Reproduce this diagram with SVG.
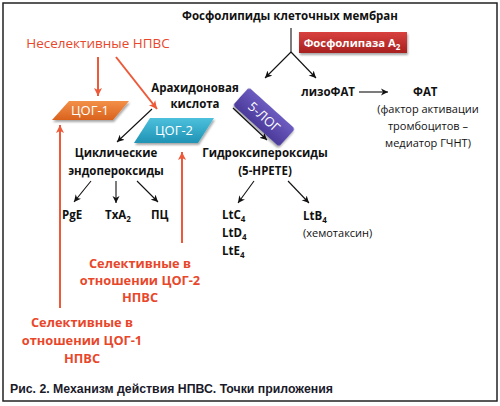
<svg xmlns="http://www.w3.org/2000/svg" width="500" height="406" viewBox="0 0 500 406">
<defs>
<style>
.b{font-family:"Open Sans","Liberation Sans",sans-serif;font-weight:bold;font-size:11.5px;fill:#111}
.n{font-family:"Open Sans","Liberation Sans",sans-serif;font-size:11px;fill:#111}
.r{font-family:"Open Sans","Liberation Sans",sans-serif;font-size:13.5px;fill:#e8472b}
.rb{font-family:"Open Sans","Liberation Sans",sans-serif;font-weight:bold;font-size:12.8px;fill:#e8472b}
.w{font-family:"Open Sans","Liberation Sans",sans-serif;font-size:13px;fill:#fff}
.wb{font-family:"Open Sans","Liberation Sans",sans-serif;font-weight:bold;font-size:11.3px;fill:#fff}
.k{stroke:#111;stroke-width:1.1;fill:none}
.red{stroke:#ec5a3a;stroke-width:2;fill:none}
</style>
<marker id="ak" markerWidth="8" markerHeight="8" refX="7" refY="4" orient="auto" markerUnits="userSpaceOnUse">
<path d="M0,0.5 L7,4 L0,7.5 L2,4 Z" fill="#111"/>
</marker>
<marker id="ar" markerWidth="9" markerHeight="9" refX="8" refY="4.5" orient="auto" markerUnits="userSpaceOnUse">
<path d="M0,0.5 L8,4.5 L0,8.5 L2,4.5 Z" fill="#ec5a3a"/>
</marker>
<filter id="sh" x="-20%" y="-20%" width="140%" height="160%">
<feDropShadow dx="1" dy="2" stdDeviation="1.2" flood-color="#000" flood-opacity="0.35"/>
</filter>
<linearGradient id="gRed" x1="0" y1="0" x2="0" y2="1"><stop offset="0" stop-color="#d8413f"/><stop offset="1" stop-color="#a8201f"/></linearGradient>
<linearGradient id="gOr" x1="0" y1="0" x2="0" y2="1"><stop offset="0" stop-color="#f39048"/><stop offset="1" stop-color="#d9621e"/></linearGradient>
<linearGradient id="gCy" x1="0" y1="0" x2="0" y2="1"><stop offset="0" stop-color="#4cc0dc"/><stop offset="1" stop-color="#1f93b5"/></linearGradient>
<linearGradient id="gPu" x1="0" y1="0" x2="0" y2="1"><stop offset="0" stop-color="#6d5cc0"/><stop offset="1" stop-color="#4b3a9a"/></linearGradient>
</defs>
<rect x="0" y="0" width="500" height="406" fill="#fff"/>
<rect x="3" y="3" width="494" height="398" fill="none" stroke="#222" stroke-width="1.5"/>

<g id="connectors">
<path class="k" d="M291,28 L291,52"/>
<path class="k" d="M291,52 L265,78" marker-end="url(#ak)"/>
<path class="k" d="M291,52 L316,78" marker-end="url(#ak)"/>
<path class="k" d="M359,92 L388,92" marker-end="url(#ak)"/>
<path class="k" d="M152,109 L117,142" marker-end="url(#ak)"/>
<path class="k" d="M233,108 L267,140" marker-end="url(#ak)"/>
<path class="k" d="M91,181 L74,202" marker-end="url(#ak)"/>
<path class="k" d="M116,181 L116,203" marker-end="url(#ak)"/>
<path class="k" d="M137,181 L158,202" marker-end="url(#ak)"/>
<path class="k" d="M254,181 L238,203" marker-end="url(#ak)"/>
<path class="k" d="M288,181 L309,203" marker-end="url(#ak)"/>
<path class="red" d="M98,57 L98,96" marker-end="url(#ar)"/>
<path class="red" d="M116,57 L157,109" marker-end="url(#ar)"/>
<path class="red" d="M60,308 L60,125" marker-end="url(#ar)"/>
<path class="red" d="M182,243 L182,152" marker-end="url(#ar)"/>
</g>

<g id="phospholipids"><text class="b" x="290" y="20" text-anchor="middle">Фосфолипиды клеточных мембран</text></g>

<g id="pla2">
<rect x="299" y="32" width="108" height="21" fill="url(#gRed)" filter="url(#sh)"/>
<text class="wb" x="352" y="46.5" text-anchor="middle">Фосфолипаза A<tspan style="font-size:8px" dy="3">2</tspan></text>
</g>

<g id="nonselective"><text class="r" x="98" y="48" text-anchor="middle">Неселективные НПВС</text></g>

<g id="cox1">
<path d="M69,101 L129,101 L113,120 L52,120 Z" fill="url(#gOr)" filter="url(#sh)"/>
<text class="w" x="90" y="115" text-anchor="middle">ЦОГ-1</text>
</g>

<g id="cox2">
<path d="M150,118 L214,118 L198,143 L134,143 Z" fill="url(#gCy)" filter="url(#sh)"/>
<text class="w" x="174" y="135" text-anchor="middle">ЦОГ-2</text>
</g>

<g id="arachidonic">
<text class="b" x="195" y="92" text-anchor="middle">Арахидоновая</text>
<text class="b" x="195" y="108" text-anchor="middle">кислота</text>
</g>

<g id="lox5">
<g transform="translate(264,117) rotate(42)">
<rect x="-31" y="-12" width="62" height="24" rx="3" fill="url(#gPu)" filter="url(#sh)"/>
<text class="w" x="0" y="4.5" text-anchor="middle">5-ЛОГ</text>
</g>
</g>

<g id="lysopaf">
<text class="b" x="355" y="96" text-anchor="end">лизоФАТ</text>
<text class="b" x="413" y="96">ФАТ</text>
<text class="n" x="428" y="113" text-anchor="middle">(фактор активации</text>
<text class="n" x="428" y="130" text-anchor="middle">тромбоцитов –</text>
<text class="n" x="428" y="147" text-anchor="middle">медиатор ГЧНТ)</text>
</g>

<g id="endoperoxides">
<text class="b" x="116" y="157" text-anchor="middle">Циклические</text>
<text class="b" x="116" y="175" text-anchor="middle">эндопероксиды</text>
</g>

<g id="hydroperoxides">
<text class="b" x="265" y="157" text-anchor="middle">Гидроксипероксиды</text>
<text class="b" x="265" y="175" text-anchor="middle">(5-HPETE)</text>
</g>

<g id="pge"><text class="b" x="62" y="219">PgE</text></g>
<g id="txa2"><text class="b" x="105" y="219">TxA<tspan style="font-size:8px" dy="3">2</tspan></text></g>
<g id="pc"><text class="b" x="151" y="219">ПЦ</text></g>

<g id="ltc">
<text class="b" x="222" y="219">LtC<tspan style="font-size:8px" dy="3">4</tspan></text>
<text class="b" x="222" y="237">LtD<tspan style="font-size:8px" dy="3">4</tspan></text>
<text class="b" x="222" y="255">LtE<tspan style="font-size:8px" dy="3">4</tspan></text>
</g>

<g id="ltb">
<text class="b" x="303" y="220">LtB<tspan style="font-size:8px" dy="3">4</tspan></text>
<text class="n" x="303" y="237">(хемотаксин)</text>
</g>

<g id="sel2">
<text class="rb" x="140" y="268" text-anchor="middle">Селективные в</text>
<text class="rb" x="140" y="285" text-anchor="middle">отношении ЦОГ-2</text>
<text class="rb" x="140" y="302" text-anchor="middle">НПВС</text>
</g>

<g id="sel1">
<text class="rb" x="82" y="327" text-anchor="middle">Селективные в</text>
<text class="rb" x="82" y="345" text-anchor="middle">отношении ЦОГ-1</text>
<text class="rb" x="82" y="363" text-anchor="middle">НПВС</text>
</g>

<g id="caption">
<text x="10" y="393" font-family="'Liberation Sans',sans-serif" font-weight="bold" font-size="12.3px" fill="#1a1a2a">Рис. 2. Механизм действия НПВС. Точки приложения</text>
</g>
</svg>
